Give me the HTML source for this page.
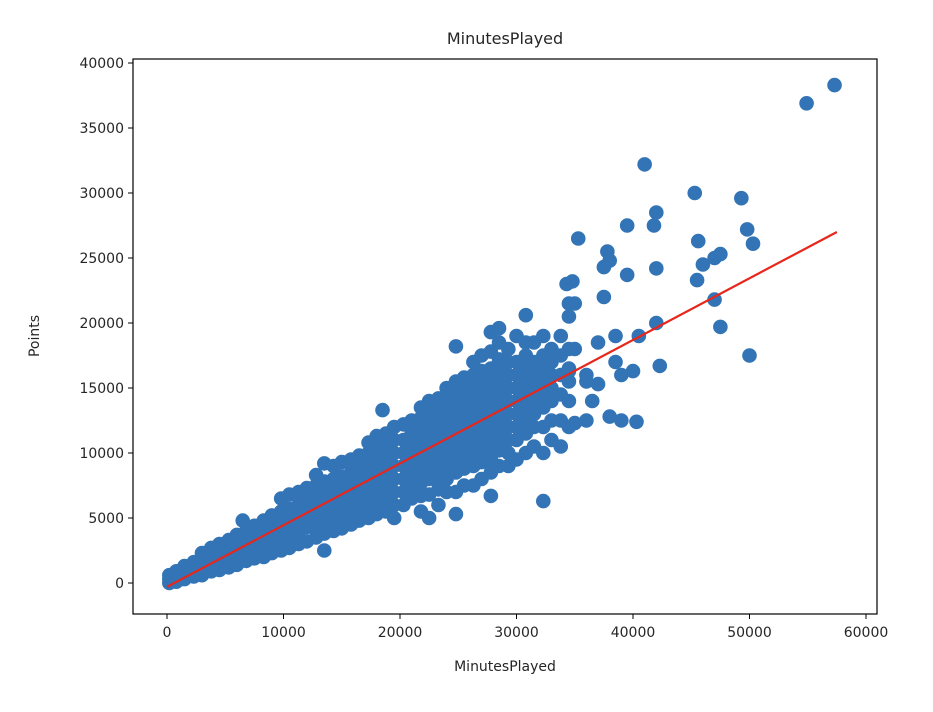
<!DOCTYPE html>
<html><head><meta charset="utf-8"><style>
body{margin:0;background:#fff;}
svg text{font-family:"DejaVu Sans","Liberation Sans",sans-serif;fill:#262626;}
</style></head><body>
<svg id="chart" width="933" height="707" viewBox="0 0 933 707" xmlns="http://www.w3.org/2000/svg">
<rect width="933" height="707" fill="#fff"/>
<text x="505" y="44" font-size="16" text-anchor="middle">MinutesPlayed</text>
<g id="points"></g>
<g id="trend"></g>
<rect x="133" y="59" width="744" height="555" fill="none" stroke="#000" stroke-width="1.2"/>
<g id="xticks"></g>
<g id="yticks"></g>
<text x="505" y="671" font-size="14" text-anchor="middle">MinutesPlayed</text>
<text x="0" y="0" font-size="14" text-anchor="middle" transform="translate(39,336) rotate(-90)">Points</text>
</svg>
<script>
// values in thousands
const xTicks=[0,10,20,30,40,50,60];
const xTickLabels=["0","10000","20000","30000","40000","50000","60000"];
const yTicks=[0,5,10,15,20,25,30,35,40];
const yTickLabels=["0","5000","10000","15000","20000","25000","30000","35000","40000"];
const columnMinutes=[0.2,0.8,1.5,2.3,3,3.8,4.5,5.3,6,6.5,6.8,7.5,8.3,9,9.8,10.5,11.3,12,12.8,13.5,14.3,15,15.8,16.5,17.3,18,18.5,18.8,19.5,20.3,21,21.8,22.5,23.3,24,24.8,25.5,26.3,27,27.8,28.5,29.3,30,30.8,31.5,32.3,33,33.8,34.5];
const columnPoints=[[0,0.3,0.6],[0.1,0.5,0.9],[0.3,0.8,1.3],[0.5,1.0,1.6],[0.6,1.2,1.8,2.3],[0.9,1.5,2.1,2.7],[1.0,1.7,2.4,3.0],[1.2,2.0,2.7,3.3],[1.4,2.2,3.0,3.7],[4.8],[1.7,2.5,3.3,4.0],[1.9,2.8,3.6,4.4],[2.0,3.0,4.0,4.8],[2.3,3.3,4.3,5.2],[2.5,3.5,4.5,5.5,6.5],[2.7,3.7,4.7,5.7,6.8],[3.0,4.0,5.0,6.0,7.0],[3.2,4.3,5.3,6.3,7.3],[3.5,4.5,5.5,6.5,7.5,8.3],[2.5,3.8,4.8,5.8,6.8,7.8,9.2],[4.0,5.0,6.0,7.0,8.0,9.0],[4.2,5.2,6.2,7.2,8.2,9.3],[4.5,5.5,6.5,7.5,8.5,9.5],[4.8,5.8,6.8,7.8,8.8,9.8],[5.0,6.0,7.0,8.0,9.0,10.0,10.8],[5.3,6.3,7.3,8.3,9.3,10.3,11.3],[13.3],[5.5,6.5,7.5,8.5,9.5,10.5,11.5],[5.0,6.0,7.0,8.0,9.0,10.0,11.0,12.0],[6.0,7.0,8.0,9.0,10.0,11.0,12.2],[6.5,7.5,8.5,9.5,10.5,11.5,12.5],[5.5,6.7,7.7,8.7,9.7,10.7,11.7,12.7,13.5],[5.0,6.8,8.0,9.0,10.0,11.0,12.0,13.0,14.0],[6.0,7.2,8.2,9.2,10.2,11.2,12.2,13.2,14.2],[7.0,8.0,9.0,10.0,11.0,12.0,13.0,14.0,15.0],[5.3,7.0,8.5,9.5,10.5,11.5,12.5,13.5,14.5,15.5,18.2],[7.5,8.8,9.8,10.8,11.8,12.8,13.8,14.8,15.8],[7.5,9.0,10.0,11.0,12.0,13.0,14.0,15.0,16.0,17.0],[8.0,9.3,10.3,11.3,12.3,13.3,14.3,15.3,16.3,17.5],[6.7,8.5,9.5,10.5,11.5,12.5,13.5,14.5,15.5,16.5,17.8,19.3],[9.0,10.2,11.2,12.2,13.2,14.2,15.2,16.2,17.2,18.5,19.6],[9.0,10.0,11.0,12.0,13.0,14.0,15.0,16.0,17.0,18.0],[9.5,11.0,12.0,13.0,14.0,15.0,16.0,17.0,19.0],[10.0,11.5,12.5,13.5,14.5,15.5,16.5,17.5,18.5,20.6],[10.5,12.0,13.0,14.0,15.0,16.0,17.0,18.5],[6.3,10.0,12.0,13.5,14.5,15.5,16.5,17.5,19.0],[11.0,12.5,14.0,15.0,16.0,17.0,18.0],[10.5,12.5,14.5,16.0,17.5,19.0],[12.0,14.0,15.5,16.5,18.0,20.5,21.5]];
const outlierMinutes=[34.3,34.8,35,35.3,35,36,36.5,37,37.5,37.8,38,37.5,38,39,39.5,39.5,40,40.3,40.5,41,41.8,42,42,42.3,42,45.3,45.6,45.5,46,47,47.5,47,47.5,49.3,49.8,50.3,50,54.9,57.3,36,37,38.5,35,36,34.5,39,38.5];
const outlierPoints=[23,23.2,21.5,26.5,18,16,14,18.5,22,25.5,24.8,24.3,12.8,12.5,27.5,23.7,16.3,12.4,19,32.2,27.5,28.5,24.2,16.7,20,30,26.3,23.3,24.5,25,25.3,21.8,19.7,29.6,27.2,26.1,17.5,36.9,38.3,15.5,15.3,17,12.3,12.5,16.3,16,19];
const trendMinutes=[0,57.5];
const trendPoints=[-0.3,27.0];

const NS="http://www.w3.org/2000/svg";
const X=v=>167+v*11.65;
const Y=v=>583-v*13;
function mk(t,a,p){const e=document.createElementNS(NS,t);for(const k in a)e.setAttribute(k,a[k]);p.appendChild(e);return e;}
const pg=document.getElementById('points');
function dot(mx,py){const c=mk('circle',{cx:X(mx),cy:Y(py),r:7.3,fill:'#3274b5'},pg);

}
columnMinutes.forEach((m,i)=>columnPoints[i].forEach(p=>dot(m,p)));
outlierMinutes.forEach((m,i)=>dot(m,outlierPoints[i]));
const tl=mk('line',{x1:X(trendMinutes[0]),y1:Y(trendPoints[0]),x2:X(trendMinutes[1]),y2:Y(trendPoints[1]),stroke:'#e8261b','stroke-width':2.2},document.getElementById('trend'));


const xg=document.getElementById('xticks');
xTicks.forEach((v,i)=>{mk('line',{x1:X(v),x2:X(v),y1:614,y2:619,stroke:'#000'},xg);
const t=mk('text',{x:X(v),y:637,'font-size':14,'text-anchor':'middle'},xg);t.textContent=xTickLabels[i];

});
const yg=document.getElementById('yticks');
yTicks.forEach((v,i)=>{mk('line',{x1:128,x2:133,y1:Y(v),y2:Y(v),stroke:'#000'},yg);
const t=mk('text',{x:124,y:Y(v)+5,'font-size':14,'text-anchor':'end'},yg);t.textContent=yTickLabels[i];

});
</script>
</body></html>
